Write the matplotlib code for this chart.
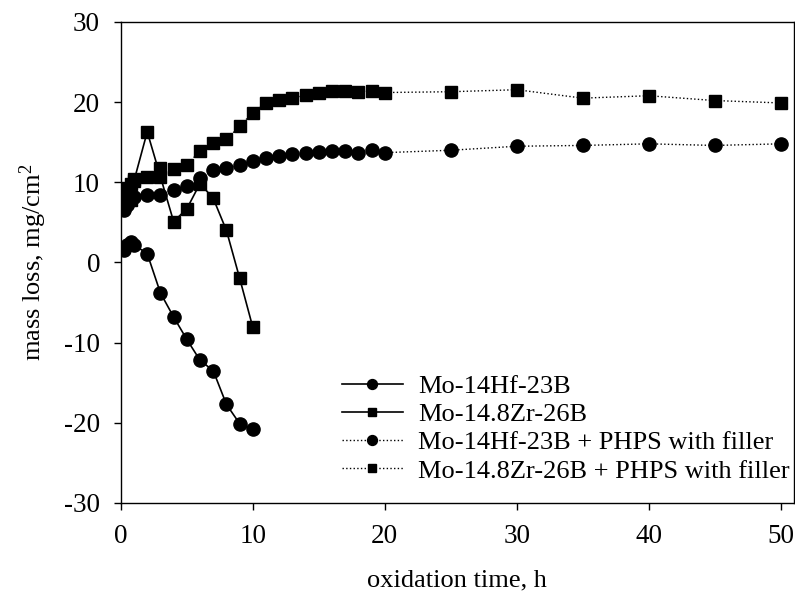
import matplotlib
matplotlib.use("Agg")
import matplotlib.pyplot as plt

# ---- data ----
t_hf = [0.25, 0.5, 0.75, 1, 2, 3, 4, 5, 6, 7, 8, 9, 10]
m_hf = [1.6, 2.2, 2.5, 2.2, 1.1, -3.8, -6.8, -9.6, -12.2, -13.5, -17.7, -20.1, -20.8]

t_zr = [0.25, 0.5, 0.75, 1, 2, 3, 4, 5, 6, 7, 8, 9, 10]
m_zr = [8.0, 7.5, 7.8, 10.2, 16.3, 10.7, 5.1, 6.7, 9.85, 8.0, 4.0, -1.95, -8.1]

t_hf_p = [0.25, 0.5, 0.75, 1, 2, 3, 4, 5, 6, 7, 8, 9, 10, 11, 12, 13, 14, 15, 16,
          17, 18, 19, 20, 25, 30, 35, 40, 45, 50]
m_hf_p = [6.5, 7.2, 7.8, 8.2, 8.4, 8.4, 9.1, 9.55, 10.5, 11.5, 11.8, 12.1, 12.7,
          13.0, 13.3, 13.5, 13.7, 13.8, 13.9, 13.9, 13.7, 14.0, 13.7, 14.0, 14.5,
          14.6, 14.8, 14.6, 14.8]

t_zr_p = [0.25, 0.5, 0.75, 1, 2, 3, 4, 5, 6, 7, 8, 9, 10, 11, 12, 13, 14, 15, 16,
          17, 18, 19, 20, 25, 30, 35, 40, 45, 50]
m_zr_p = [8.5, 9.3, 9.8, 10.4, 10.7, 11.8, 11.6, 12.2, 13.9, 14.9, 15.35, 17.0,
          18.7, 19.9, 20.3, 20.5, 20.9, 21.15, 21.45, 21.45, 21.3, 21.45, 21.2,
          21.3, 21.55, 20.5, 20.8, 20.2, 19.9]

labels = ["Mo-14Hf-23B", "Mo-14.8Zr-26B",
          "Mo-14Hf-23B + PHPS with filler", "Mo-14.8Zr-26B + PHPS with filler"]
x_ticks = [0, 10, 20, 30, 40, 50]
y_ticks = [-30, -20, -10, 0, 10, 20, 30]

plt.rcParams['font.family'] = ['Liberation Serif', 'DejaVu Serif']
plt.rcParams['mathtext.fontset'] = 'custom'
plt.rcParams['mathtext.rm'] = 'Liberation Serif'
plt.rcParams['mathtext.it'] = 'Liberation Serif:italic'
plt.rcParams['axes.unicode_minus'] = False

fig = plt.figure(figsize=(7.95, 5.99), dpi=100)
ax = fig.add_axes([0.152, 0.1603, 0.8467, 0.803])

ax.plot(t_hf, m_hf, '-', color='black', lw=1.2, marker='o', ms=9.5, label=labels[0])
ax.plot(t_zr, m_zr, '-', color='black', lw=1.2, marker='s', ms=8.5, label=labels[1])
ax.plot(t_hf_p, m_hf_p, ':', color='black', lw=1.0, marker='o', ms=9.5, label=labels[2])
ax.plot(t_zr_p, m_zr_p, ':', color='black', lw=1.0, marker='s', ms=8.5, label=labels[3])

ax.set_xlim(0, 51)
ax.set_ylim(-30, 30)
ax.set_xticks(x_ticks)
ax.set_yticks(y_ticks)
ax.tick_params(direction='out', length=5, width=1, labelsize=19.5, pad=10)
for s in ax.spines.values():
    s.set_linewidth(1.0)
ax.set_xlabel("oxidation time, h", fontsize=19, labelpad=15)
ax.set_ylabel(r"mass loss, mg/cm$^{2}$", fontsize=19, labelpad=11)

ax.legend(loc='upper left', bbox_to_anchor=(0.430, 0.375), bbox_transform=fig.transFigure,
          frameon=False, fontsize=19, handlelength=2.3, handletextpad=0.6,
          labelspacing=0.18, borderpad=0, borderaxespad=0, markerscale=0.75)

fig.savefig("out.png", dpi=100)
